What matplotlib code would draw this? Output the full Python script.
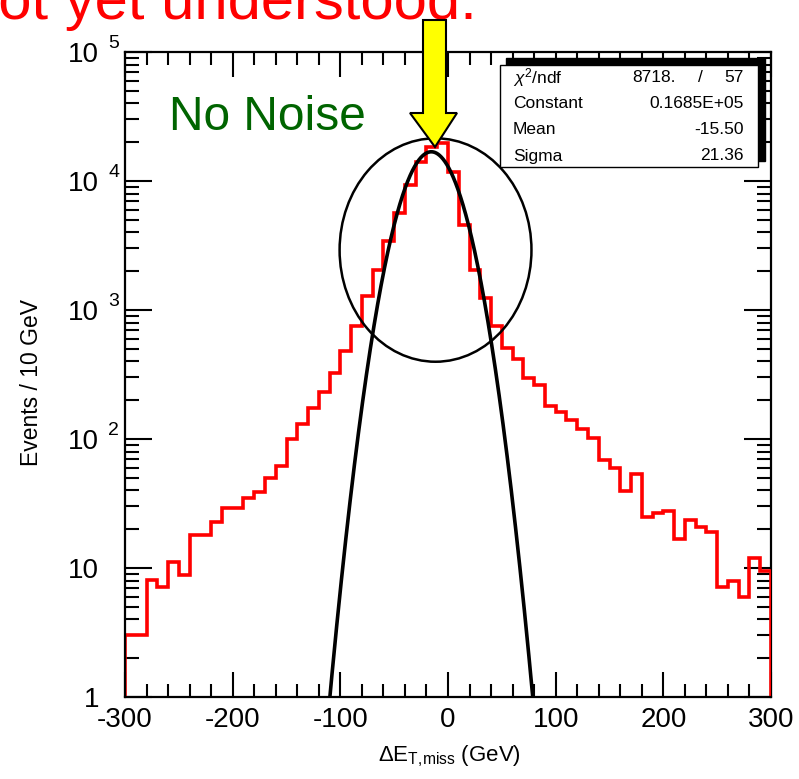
import numpy as np
import matplotlib
matplotlib.use("Agg")
import matplotlib.pyplot as plt
from matplotlib.patches import Ellipse, Rectangle, Polygon
from matplotlib.ticker import MultipleLocator, LogLocator, NullFormatter, FixedLocator, FixedFormatter

plt.rcParams['font.family'] = ['Liberation Sans', 'DejaVu Sans']
plt.rcParams['mathtext.fontset'] = 'custom'
plt.rcParams['mathtext.rm'] = 'Liberation Sans'
plt.rcParams['mathtext.it'] = 'Liberation Sans:italic'

# ---------------- data ----------------
bin_edges = np.arange(-300, 301, 10)
counts = [3, 3, 8.1, 7.1, 11.1, 8.9, 18, 18, 22.8, 29,
          29, 35, 38.6, 50, 62, 100, 130, 175, 231, 323,
          484, 752, 1284, 2042, 3430, 5680, 9300, 14100, 18450, 19600,
          11800, 4560, 2042, 1230, 752, 510, 415, 299, 262, 180,
          163, 140, 120, 101, 68.7, 60, 39.7, 54, 25, 26.8,
          27.7, 16.8, 23.6, 20.9, 19.1, 7.1, 8.0, 6.0, 12, 9.4]

fit_constant = 16850.0
fit_mean = -15.50
fit_sigma = 21.36

stat_names = [r"$\mathit{χ}^{2}$/ndf", "Constant", "Mean", "Sigma"]
stat_values = ["", "0.1685E+05", "-15.50", "21.36"]
chi2_value = "8718."
ndf_value = "57"

x_ticks = [-300, -200, -100, 0, 100, 200, 300]
x_tick_labels = ["-300", "-200", "-100", "0", "100", "200", "300"]
y_ticks = [1, 10, 100, 1000, 1e4, 1e5]
y_tick_labels = ["1", "10", "10", "10", "10", "10"]
y_tick_sups = ["", "", "2", "3", "4", "5"]

W, H = 799, 779
fig = plt.figure(figsize=(W / 100, H / 100), dpi=100)
fig.patch.set_facecolor("white")


def fx(px):
    return px / W


def fy(py):
    return 1 - py / H


ax = fig.add_axes([fx(125), fy(697), (771 - 125) / W, (697 - 52) / H])
ax.set_yscale("log")
ax.set_xlim(-300, 300)
ax.set_ylim(1, 1e5)

# histogram
ax.stairs(counts, bin_edges, baseline=0.5, color="#ff0000", linewidth=2.6, zorder=3)

# gaussian fit
xf = np.linspace(-300, 300, 3000)
yf = fit_constant * np.exp(-0.5 * ((xf - fit_mean) / fit_sigma) ** 2)
ax.plot(xf, yf, color="black", linewidth=2.6, zorder=4)

# ellipse annotation
ell = Ellipse((0.4807, 0.693), 0.297, 0.3464, transform=ax.transAxes,
              fill=False, edgecolor="black", linewidth=1.8, zorder=5)
ax.add_patch(ell)

# ticks / frame
for name, s in ax.spines.items():
    s.set_linewidth(1.6)
    s.set_zorder(6)
ax.spines['right'].set_zorder(2)
ax.xaxis.set_major_locator(FixedLocator(x_ticks))
ax.xaxis.set_major_formatter(FixedFormatter(x_tick_labels))
ax.xaxis.set_minor_locator(MultipleLocator(20))
ax.yaxis.set_major_locator(FixedLocator(y_ticks))
ax.yaxis.set_major_formatter(FixedFormatter(y_tick_labels))
ax.yaxis.set_minor_locator(LogLocator(base=10, subs=np.arange(2, 10), numticks=20))
ax.yaxis.set_minor_formatter(NullFormatter())
ax.tick_params(which="both", direction="in", top=True, right=True, width=1.5)
ax.tick_params(axis="x", which="major", length=18, labelsize=20, pad=7)
ax.tick_params(axis="x", which="minor", length=9.5)
ax.tick_params(axis="y", which="major", length=19.5, labelsize=20, pad=18.5)
ax.tick_params(axis="y", which="minor", length=10)

for yv, sup in zip(y_ticks, y_tick_sups):
    if sup:
        ax.annotate(sup, xy=(0, yv), xycoords=("axes fraction", "data"),
                    xytext=(-12.2, 3.2), textcoords="offset points",
                    ha="left", va="baseline", fontsize=14, annotation_clip=False)

# axis titles
fig.text(fx(449), fy(761), r"ΔE$_{\mathrm{T,\!miss}}$ (GeV)", ha="center", va="baseline",
         fontsize=16)
fig.text(fx(32), fy(383), "Events / 10 GeV", rotation=90, ha="center", va="center",
         fontsize=16.5)

# "No Noise"
fig.text(fx(169), fy(130), "No Noise", color="#006400", fontsize=34.5,
         ha="left", va="baseline")

# stats box with shadow
shadow = Rectangle((fx(506), fy(161)), fx(765) - fx(506), fy(58) - fy(161),
                   transform=fig.transFigure, facecolor="black", edgecolor="black",
                   zorder=10)
box = Rectangle((fx(500), fy(167)), fx(758) - fx(500), fy(65) - fy(167),
                transform=fig.transFigure, facecolor="white", edgecolor="black",
                linewidth=1.0, zorder=11)
fig.add_artist(shadow)
fig.add_artist(box)
rows_y = [78, 104, 130, 156]
for name, val, ry in zip(stat_names, stat_values, rows_y):
    fig.text(fx(513), fy(ry), name, fontsize=12.5, ha="left", va="center", zorder=12)
    if val:
        fig.text(fx(744), fy(ry), val, fontsize=12.5, ha="right", va="center", zorder=12)
fig.text(fx(676), fy(rows_y[0]), chi2_value, fontsize=12.5, ha="right", va="center", zorder=12)
fig.text(fx(700), fy(rows_y[0]), "/", fontsize=12.5, ha="center", va="center", zorder=12)
fig.text(fx(744), fy(rows_y[0]), ndf_value, fontsize=12.5, ha="right", va="center", zorder=12)

# yellow arrow
arrow_px = [(423, 20), (446, 20), (446, 113), (457, 113), (435, 147),
            (410, 113), (423, 113)]
arrow = Polygon([(fx(px), fy(py)) for px, py in arrow_px], closed=True,
                transform=fig.transFigure, facecolor="#ffff00", edgecolor="black",
                linewidth=1.5, zorder=20)
fig.add_artist(arrow)

# red cut-off headline (cut at the figure edge, as in the reference)
fig.text(fx(477), fy(19), "not yet understood.", color="#ff0000", fontsize=43,
         ha="right", va="baseline")

fig.savefig("out.png", dpi=100)
